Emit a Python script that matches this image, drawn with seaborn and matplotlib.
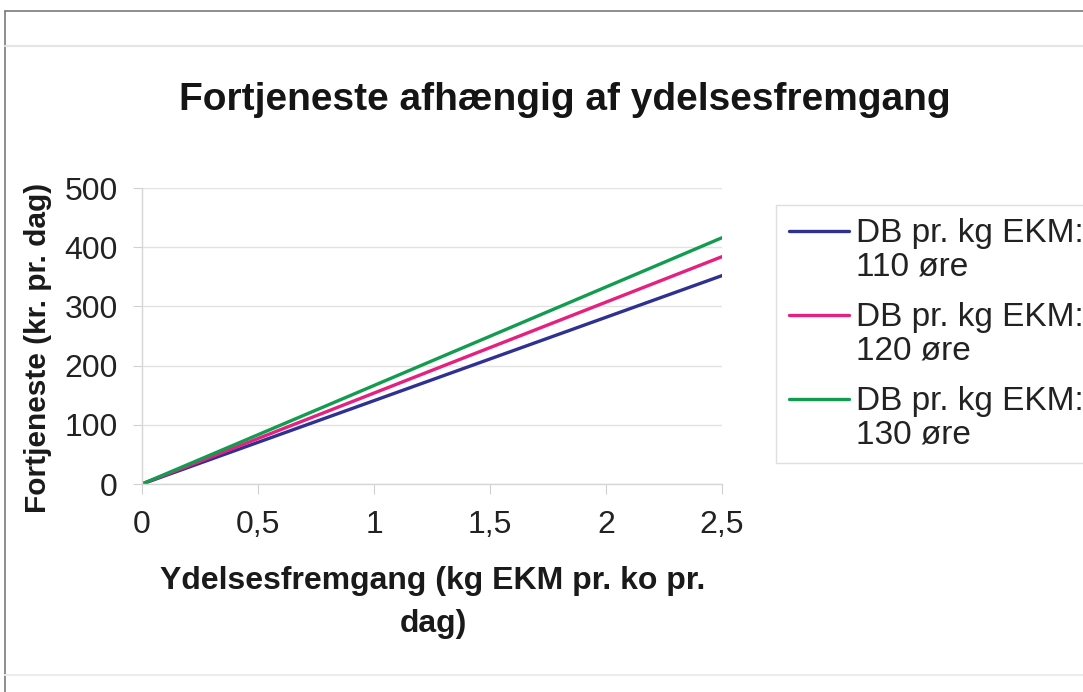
import matplotlib
matplotlib.use("Agg")
import matplotlib.pyplot as plt
import matplotlib.lines as mlines
from matplotlib.legend_handler import HandlerLine2D
import seaborn as sns
import pandas as pd

# Yield increase (kg EKM per cow per day)
ydelse = [0, 0.5, 1, 1.5, 2, 2.5]
x_ticklabels = ["0", "0,5", "1", "1,5", "2", "2,5"]

# Profit (kr. per day) for each contribution margin per kg EKM
db_110 = [0, 70.4, 140.8, 211.2, 281.6, 352]
db_120 = [0, 76.8, 153.6, 230.4, 307.2, 384]
db_130 = [0, 83.2, 166.4, 249.6, 332.8, 416]

series_labels = ["DB pr. kg EKM:\n110 øre", "DB pr. kg EKM:\n120 øre", "DB pr. kg EKM:\n130 øre"]
colors = ["#2E3192", "#E6207F", "#119C4F"]

df = pd.concat([
    pd.DataFrame({"x": ydelse, "y": vals, "serie": lab})
    for vals, lab in zip([db_110, db_120, db_130], series_labels)
])

sns.set_style("white")
plt.rcParams["font.family"] = ["Liberation Sans", "DejaVu Sans"]

W, H = 1083, 692
fig = plt.figure(figsize=(W / 100, H / 100), dpi=100)
fig.patch.set_facecolor("white")

# Outer frame and separator lines
fig.add_artist(mlines.Line2D([5 / W, 5 / W], [0, 1 - 11 / H], color="#7a7a7a", lw=1.2))
fig.add_artist(mlines.Line2D([5 / W, 1], [1 - 11 / H, 1 - 11 / H], color="#7a7a7a", lw=1.2))
fig.add_artist(mlines.Line2D([5 / W, 1], [1 - 46 / H, 1 - 46 / H], color="#e4e4e4", lw=1.5))
fig.add_artist(mlines.Line2D([5 / W, 1], [1 - 675 / H, 1 - 675 / H], color="#ececec", lw=1.5))

x0, x1, y0, y1 = 142, 722, 484, 188
ax = fig.add_axes([x0 / W, 1 - y0 / H, (x1 - x0) / W, (y0 - y1) / H])

sns.lineplot(data=df, x="x", y="y", hue="serie", palette=colors, linewidth=2.4,
             ax=ax, legend=False)

ax.set_xlim(0, 2.5)
ax.set_ylim(0, 500)
ax.set_xticks(ydelse)
ax.set_xticklabels(x_ticklabels)
ax.set_yticks([0, 100, 200, 300, 400, 500])
ax.tick_params(axis="both", labelsize=23, colors="#222222")
ax.tick_params(axis="x", bottom=True, length=7, width=0.8, color="#d0d0d0", pad=12)
ax.tick_params(axis="y", left=True, length=6.5, width=0.8, color="#d0d0d0", pad=11)
ax.yaxis.grid(True, color="#e2e2e2", linewidth=1)
ax.xaxis.grid(False)
for s in ["top", "right"]:
    ax.spines[s].set_visible(False)
for s in ["left", "bottom"]:
    ax.spines[s].set_color("#d6d6d6")
    ax.spines[s].set_linewidth(1)

ax.set_xlabel("Ydelsesfremgang (kg EKM pr. ko pr.\ndag)", fontsize=23, fontweight="bold",
              linespacing=1.55, color="#1a1a1a")
ax.xaxis.label.set_va("top")
ax.xaxis.set_label_coords((433 - x0) / (x1 - x0), -(566 - y0) / (y0 - y1))

ax.set_ylabel("Fortjeneste (kr. pr. dag)", fontsize=21.5, fontweight="bold", color="#1a1a1a")
ax.yaxis.label.set_va("center")
ax.yaxis.set_label_coords(-(x0 - 38) / (x1 - x0), (y0 - 348) / (y0 - y1))

fig.text(565 / W, 1 - 100 / H, "Fortjeneste afhængig af ydelsesfremgang",
         ha="center", va="center", fontsize=28, fontweight="bold", color="#151515")


class FirstLineHandler(HandlerLine2D):
    """Place the legend line next to the first text line of a two-line label."""

    def __init__(self, shift, **kw):
        super().__init__(**kw)
        self.shift = shift

    def create_artists(self, legend, orig_handle, xdescent, ydescent, width, height,
                       fontsize, trans):
        arts = super().create_artists(legend, orig_handle, xdescent, ydescent, width,
                                      height, fontsize, trans)
        for a in arts:
            a.set_ydata([y + self.shift for y in a.get_ydata()])
        return arts


handles = [mlines.Line2D([], [], color=c, lw=2.4) for c in colors]
leg = fig.legend(handles, series_labels, loc="upper left",
                 bbox_to_anchor=(776 / W, 1 - 205 / H),
                 fontsize=24, frameon=True, fancybox=False, handlelength=1.8,
                 handletextpad=0.2, borderpad=0.4, labelspacing=0.6, borderaxespad=0,
                 handler_map={mlines.Line2D: FirstLineHandler(shift=14)})
leg.get_frame().set_edgecolor("#d8d8d8")
leg.get_frame().set_linewidth(1)
for t in leg.get_texts():
    t.set_color("#222222")
    t.set_linespacing(1.08)

fig.savefig("out.png", dpi=100)
